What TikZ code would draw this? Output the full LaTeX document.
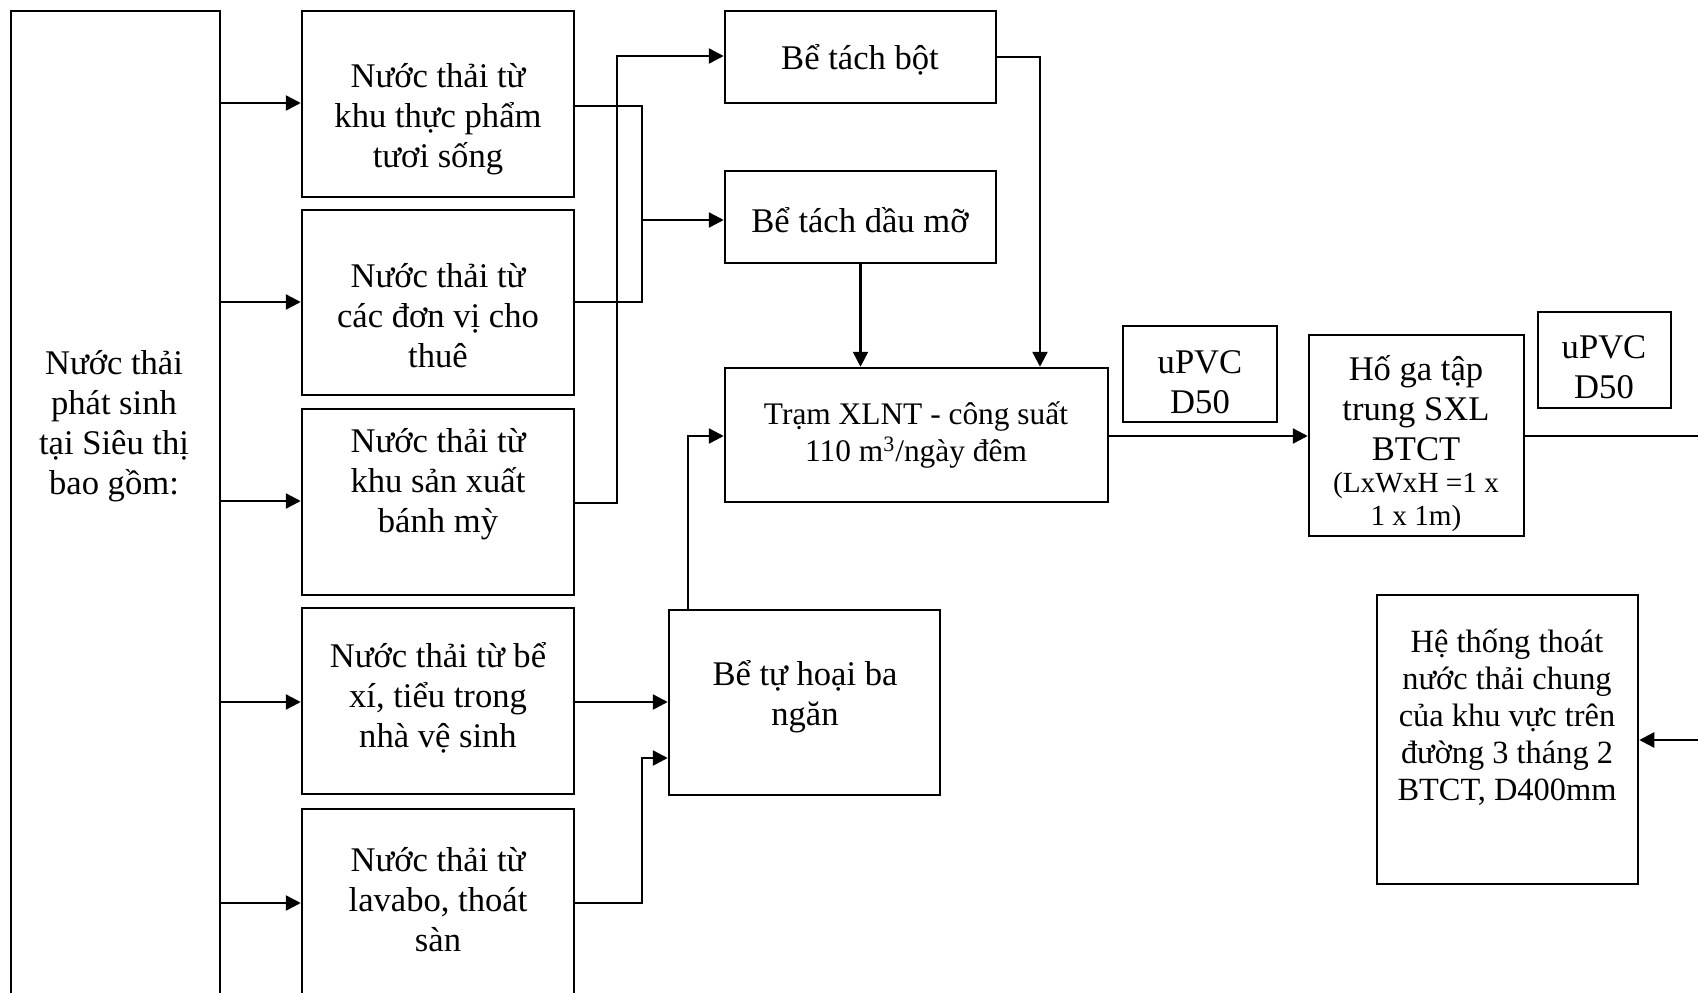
\documentclass[tikz,border=0pt]{standalone}
\usepackage{fontspec}
\setmainfont{Liberation Serif}
\usetikzlibrary{fit,arrows.meta}
\tikzset{
 box/.style={draw, line width=1.25pt, inner sep=0pt},
 conn/.style={line width=1.25pt},
 arr/.style={conn, -{Triangle[length=7.5pt,width=7.5pt]}},
 big/.style={font=\fontsize{17.3}{20}\selectfont, align=center, inner sep=0pt},
 mid/.style={font=\fontsize{15.7}{18.5}\selectfont, align=center, inner sep=0pt},
 midb/.style={font=\fontsize{16.2}{18.5}\selectfont, align=center, inner sep=0pt},
 small/.style={font=\fontsize{14.6}{16.25}\selectfont, align=center, inner sep=0pt},
}
\begin{document}
\begin{tikzpicture}[x=0.5pt,y=-0.5pt]
\useasboundingbox (0,0) rectangle (1698,992);
\clip (0,0) rectangle (1698,992);

% boxes
\node[box, fit={(11,11)(220,1010)}] (L) {};
\node[big] (Lt) at (114,426) {Nước thải\\phát sinh\\tại Siêu thị\\bao gồm:};

\node[box, fit={(302,11)(574,197)}] (A) {};
\node[big] (At) at (438,119) {Nước thải từ\\khu thực phẩm\\tươi sống};
\node[box, fit={(302,210)(574,395)}] (B) {};
\node[big] (Bt) at (438,316) {Nước thải từ\\các đơn vị cho\\thuê};
\node[box, fit={(302,409)(574,595)}] (C) {};
\node[big] (Ct) at (438,484) {Nước thải từ\\khu sản xuất\\bánh mỳ};
\node[box, fit={(302,608)(574,794)}] (D) {};
\node[big] (Dt) at (438,698) {Nước thải từ bể\\xí, tiểu trong\\nhà vệ sinh};
\node[box, fit={(302,809)(574,1010)}] (E) {};
\node[big] (Et) at (438,900) {Nước thải từ\\lavabo, thoát\\sàn};

\node[box, fit={(725,11)(996,103)}] (Bot) {};
\node[big] (Bott) at (860,60) {Bể tách bột};
\node[box, fit={(725,171)(996,263)}] (Dau) {};
\node[big] (Daut) at (860,220) {Bể tách dầu mỡ};
\node[box, fit={(725,368)(1108,502)}] (Tram) {};
\node[mid] (Tramt) at (916,435) {Trạm XLNT - công suất\\110 m\textsuperscript{3}/ngày đêm};
\node[box, fit={(669,610)(940,795)}] (Hoai) {};
\node[big] (Hoait) at (805,697) {Bể tự hoại ba\\ngăn};

\node[box, fit={(1123,326)(1277,422)}] (U1) {};
\node[big] (U1t) at (1200,382) {uPVC\\D50};
\node[box, fit={(1309,335)(1524,536)}] (Hoga) {};
\node[big] (Hogat) at (1416,408) {Hố ga tập\\trung SXL\\BTCT};
\node[small] (Hogas) at (1416,502) {(LxWxH =1 x\\1 x 1m)};
\node[box, fit={(1538,312)(1671,408)}] (U2) {};
\node[big] (U2t) at (1604,367) {uPVC\\D50};
\node[box, fit={(1377,595)(1638,884)}] (He) {};
\node[midb] (Het) at (1507,717) {Hệ thống thoát\\nước thải chung\\của khu vực trên\\đường 3 tháng 2\\BTCT, D400mm};

% connectors from source box
\coordinate (lA) at (0,103);
\coordinate (lB) at (0,302);
\coordinate (lC) at (0,501);
\coordinate (lD) at (0,702);
\coordinate (lE) at (0,903);
\draw[arr] (L.east |- lA) -- (A.west |- lA);
\draw[arr] (L.east |- lB) -- (B.west |- lB);
\draw[arr] (L.east |- lC) -- (C.west |- lC);
\draw[arr] (L.east |- lD) -- (D.west |- lD);
\draw[arr] (L.east |- lE) -- (E.west |- lE);

% A, B -> Dau
\coordinate (a1) at (642,106);
\coordinate (b1) at (642,302);
\coordinate (d1) at (642,220);
\draw[conn] (A.east |- a1) -- (a1) -- (b1) -- (B.east |- b1);
\draw[arr] (d1) -- (d1 -| Dau.west);

% C -> Bot
\coordinate (c1) at (617,503);
\coordinate (c2) at (617,56);
\draw[arr] (C.east |- c1) -- (c1) -- (c2) -- (c2 -| Bot.west);

% Bot, Dau -> Tram
\coordinate (e1) at (1040,57);
\draw[arr] (Bot.east |- e1) -- (e1) -- (e1 |- Tram.north);
\draw[arr] (Dau.south) -- (Dau.south |- Tram.north);

% Hoai -> Tram
\coordinate (f1) at (688,436);
\draw[arr] (Hoai.north -| f1) -- (f1) -- (f1 -| Tram.west);

% D, E -> Hoai
\coordinate (g1) at (600,702);
\draw[arr] (D.east |- g1) -- (g1 -| Hoai.west);
\coordinate (h1) at (642,903);
\coordinate (h2) at (642,758);
\draw[arr] (E.east |- h1) -- (h1) -- (h2) -- (h2 -| Hoai.west);

% Tram -> Hoga -> out
\coordinate (t1) at (0,436);
\draw[arr] (Tram.east |- t1) -- (Hoga.west |- t1);
\coordinate (r1) at (1698,436);
\draw[conn] (Hoga.east |- r1) -- (r1);
\coordinate (r2) at (1698,740);
\draw[arr] (r2) -- (r2 -| He.east);
\end{tikzpicture}
\end{document}
